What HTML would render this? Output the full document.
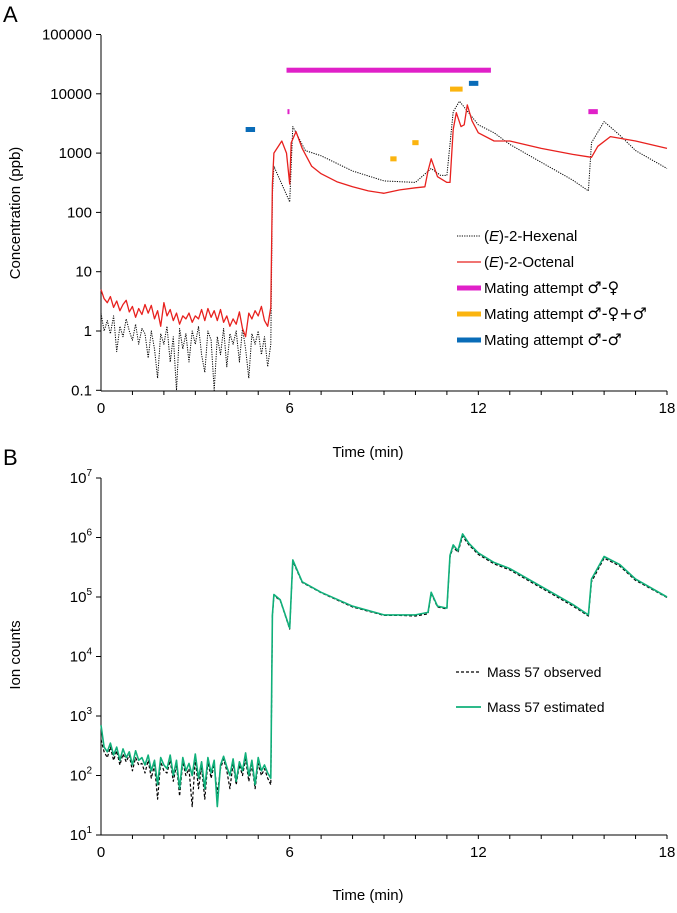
<!DOCTYPE html>
<html><head><meta charset="utf-8"><style>
body{margin:0;background:#fff;}
svg text{font-family:"Liberation Sans",sans-serif;fill:#000;}
.sym{font-family:"DejaVu Sans",sans-serif;font-size:16px;}
</style></head><body>
<svg id="s" width="677" height="908" viewBox="0 0 677 908" xmlns="http://www.w3.org/2000/svg">
<text x="3" y="22" font-size="22">A</text>
<text x="3" y="465" font-size="22">B</text>
<text transform="translate(20,213) rotate(-90)" text-anchor="middle" font-size="15">Concentration (ppb)</text>
<text transform="translate(20,655) rotate(-90)" text-anchor="middle" font-size="15">Ion counts</text>
<text x="368" y="457" text-anchor="middle" font-size="15">Time (min)</text>
<text x="368" y="900" text-anchor="middle" font-size="15">Time (min)</text>
<g id="ga"></g><g id="gb"></g>
<g>
<line x1="457" y1="236" x2="481" y2="236" stroke="#000" stroke-dasharray="1.2,1.2" stroke-width="1"/>
<text x="484" y="241" font-size="15">(<tspan font-style="italic">E</tspan>)-2-Hexenal</text>
<line x1="457" y1="262" x2="481" y2="262" stroke="#e8211e" stroke-width="1.3"/>
<text x="484" y="267" font-size="15">(<tspan font-style="italic">E</tspan>)-2-Octenal</text>
<line x1="457" y1="288" x2="481" y2="288" stroke="#e020c8" stroke-width="5"/>
<text x="484" y="293" font-size="15">Mating attempt <tspan class="sym">♂-♀</tspan></text>
<line x1="457" y1="314" x2="481" y2="314" stroke="#fbb40f" stroke-width="5"/>
<text x="484" y="319" font-size="15">Mating attempt <tspan class="sym">♂-♀+♂</tspan></text>
<line x1="457" y1="340" x2="481" y2="340" stroke="#0a6cb8" stroke-width="5"/>
<text x="484" y="345" font-size="15">Mating attempt <tspan class="sym">♂-♂</tspan></text>
</g>
<g>
<line x1="456" y1="672" x2="481" y2="672" stroke="#000" stroke-dasharray="3,2" stroke-width="1.2"/>
<text x="487" y="677" font-size="14">Mass 57 observed</text>
<line x1="456" y1="707" x2="481" y2="707" stroke="#10b07a" stroke-width="1.8"/>
<text x="487" y="712" font-size="14">Mass 57 estimated</text>
</g>
</svg>
<script>
// ---- data ----
const xTicks=[0,6,12,18];
const aYTicks=[0.1,1,10,100,1000,10000,100000];
const bYExp=[1,2,3,4,5,6,7];
const hexNoise=[2,1,1.5,0.9,1.8,0.45,1.2,0.8,1.6,1,0.7,1.3,0.6,1.1,0.9,0.35,1,0.5,0.16,0.9,0.6,1.2,0.3,0.8,0.1,1.1,0.5,0.9,0.3,1,0.6,1.2,0.4,0.2,1,0.7,0.1,0.8,0.4,1.1,0.25,0.9,0.6,1,0.3,1.1,0.5,0.16,0.9,0.6,1,0.4,0.8,0.25,0.6];
const octNoise=[5,3.5,3,3.8,2.5,3.2,2.2,2.8,3.3,2.1,2.6,1.7,2.4,1.9,2.8,2,2.7,1.6,2.2,1.2,3,1.8,2.3,1.5,2,1.3,1.8,1.6,2,1.4,1.8,1.6,2.3,1.5,2.4,1.7,2.2,1.5,2.3,1.4,1.8,1.2,1.6,1.3,2.1,1.1,0.8,2,1.6,2.2,1.8,2.6,1.5,1.2,2.5];
const hexT=[5.45,5.5,6.0,6.1,6.5,7,8,9,9.5,10,10.5,10.8,11.0,11.2,11.4,11.6,12,12.5,13,14,15,15.5,15.6,16,16.5,17,18];
const hexV=[200,600,150,2800,1100,900,500,340,330,320,550,420,420,5000,7500,5500,3000,2200,1400,700,350,230,1500,3400,2000,1100,550];
const octT=[5.45,5.5,5.75,5.9,6.0,6.05,6.2,6.4,6.7,7,7.5,8,8.5,9,9.5,10,10.3,10.4,10.5,10.7,11,11.1,11.2,11.3,11.45,11.55,11.65,11.8,12,12.5,13,14,15,15.6,15.8,16.2,17,18];
const octV=[300,1000,1600,1000,300,1500,2300,1200,600,450,330,270,230,210,240,260,270,500,800,400,320,320,2500,4800,2800,3000,6500,3500,2200,1600,1600,1200,950,850,1300,1900,1600,1200];
const barStart=[5.9,5.93,15.5,4.6,11.7,9.2,9.9,11.1];
const barEnd=[12.4,5.97,15.8,4.9,12.0,9.4,10.1,11.5];
const barLevel=[25000,5000,5000,2500,15000,800,1500,12000];
const barColor=["#e020c8","#e020c8","#e020c8","#0a6cb8","#0a6cb8","#fbb40f","#fbb40f","#fbb40f"];
const estNoise=[700,300,250,350,220,300,180,280,200,250,150,260,180,200,150,220,120,180,70,200,150,130,220,100,180,60,200,120,160,100,230,90,170,60,200,110,180,30,150,210,140,100,190,80,170,120,240,100,180,70,200,120,150,110,90];
const obsNoise=[400,250,200,300,180,260,150,230,170,220,120,200,150,160,110,180,90,150,40,170,120,110,180,80,150,45,170,100,130,30,190,60,140,40,170,90,150,50,130,190,120,60,160,70,150,100,190,80,150,60,160,100,130,90,70];
const bT=[5.45,5.5,5.7,6.0,6.1,6.4,7,8,9,9.5,10,10.4,10.5,10.7,11,11.1,11.2,11.35,11.5,11.7,12,12.5,13,14,15,15.5,15.6,16,16.5,17,18];
const estV=[50000,110000,90000,30000,420000,180000,120000,70000,50000,50000,50000,55000,120000,70000,65000,500000,750000,600000,1150000,800000,550000,380000,300000,150000,75000,50000,200000,480000,350000,200000,100000];
const obsV=[48000,105000,88000,29000,400000,175000,118000,68000,49000,49000,48000,52000,115000,68000,63000,470000,700000,560000,1050000,750000,520000,360000,285000,142000,71000,48000,180000,450000,330000,190000,98000];
// ---- drawing ----
const NS="http://www.w3.org/2000/svg";
const X0=101,X1=667;
const sx=t=>X0+(X1-X0)*t/18;
const aY=v=>331-59.3*Math.log10(v);
const bY=v=>835-59.5*(Math.log10(v)-1);
function el(p,tag,at){const e=document.createElementNS(NS,tag);for(const k in at)e.setAttribute(k,at[k]);p.appendChild(e);return e;}
function noiseT(n){const a=[];for(let i=0;i<n;i++)a.push(i*0.1);return a;}
function path(g,ts,vs,fy,stroke,w,dash,name){
 let d="";ts.forEach((t,i)=>{d+=(i?"L":"M")+sx(t).toFixed(1)+","+fy(vs[i]).toFixed(1);});
 const p=el(g,"path",{d:d,fill:"none",stroke:stroke,"stroke-width":w,"stroke-linejoin":"round"});
 if(dash)p.setAttribute("stroke-dasharray",dash);
 
 
}
function axes(g,fy,yTop,yBot,labels,vals,pref){
 el(g,"line",{x1:X0,y1:yTop,x2:X0,y2:yBot,stroke:"#000","stroke-width":1});
 el(g,"line",{x1:X0,y1:yBot,x2:X1,y2:yBot,stroke:"#000","stroke-width":1});
 for(let m=1;m<=18;m++){el(g,"line",{x1:sx(m),y1:yBot,x2:sx(m),y2:yBot+4,stroke:"#000"});}
 xTicks.forEach(t=>{const e=el(g,"text",{x:sx(t),y:yBot+22,"text-anchor":"middle","font-size":15});e.textContent=t;
  });
 vals.forEach((v,i)=>{const y=fy(v);el(g,"line",{x1:X0-5,y1:y,x2:X0,y2:y,stroke:"#000"});
  const e=el(g,"text",{x:X0-9,y:y+5,"text-anchor":"end","font-size":15});
  if(typeof labels[i]==="number"){e.textContent="10";const s=el(e,"tspan",{dy:-7,"font-size":10});s.textContent=labels[i];}
  else e.textContent=labels[i];
  });
}
const ga=document.getElementById("ga"),gb=document.getElementById("gb");
axes(ga,aY,35,391,aYTicks.map(String),aYTicks,"a-");
axes(gb,bY,478,835,bYExp,bYExp.map(e=>Math.pow(10,e)),"b-");
const nt=noiseT(55);
path(ga,nt.concat(hexT),hexNoise.concat(hexV),aY,"#000",1,"1.2,1.2","hexenal-line");
path(ga,nt.concat(octT),octNoise.concat(octV),aY,"#e8211e",1.3,null,"octenal-line");
barStart.forEach((s,i)=>{const y=aY(barLevel[i]);
 const r=el(ga,"rect",{x:sx(s),y:y-2.5,width:Math.max(2,sx(barEnd[i])-sx(s)),height:5,fill:barColor[i]});
 });
path(gb,nt.concat(bT),obsNoise.concat(obsV),bY,"#000",1.2,"3,2","mass57-observed-line");
path(gb,nt.concat(bT),estNoise.concat(estV),bY,"#10b07a",1.6,null,"mass57-estimated-line");
</script>
</body></html>
